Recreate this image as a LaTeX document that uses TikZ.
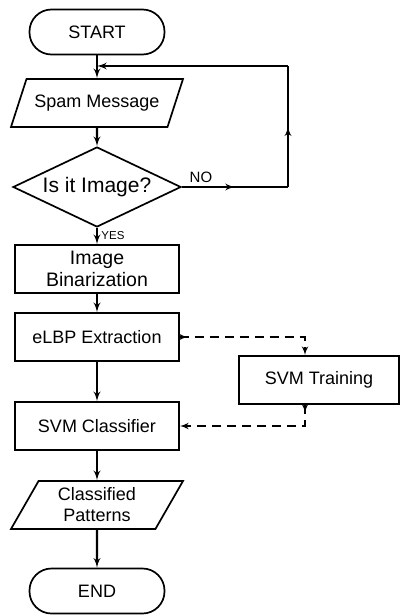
\documentclass[tikz,border=0pt]{standalone}
\usepackage{fontspec}
\setmainfont{Liberation Sans}
\usetikzlibrary{shapes,arrows,decorations.markings}

\begin{document}
\begin{tikzpicture}[x=1pt,y=1pt,auto,node distance=70pt,text centered,
	font=\fontsize{18}{21}\selectfont,
	term/.style={rectangle,rounded corners=22pt,draw=black,line width=1.7pt,minimum width=135pt,minimum height=45pt},
	block/.style={rectangle,draw=black,line width=1.7pt,minimum width=164pt,minimum height=48pt,align=center},
	io/.style={trapezium,trapezium left angle=56,trapezium right angle=124,trapezium stretches body,draw=black,line width=1.7pt,minimum width=172pt,minimum height=48pt,align=center},
	test/.style={diamond,draw=black,line width=1.7pt,aspect=2.1,inner sep=0pt,minimum width=168pt,minimum height=80pt},
	wire/.style={draw,line width=2.3pt},
	line/.style={draw,line width=2.3pt,-latex'},
	dline/.style={draw,line width=2pt,dash pattern=on 9pt off 6pt,-latex'},
	midarrow/.style={postaction={decorate},decoration={markings,mark=at position 0.5 with {\arrow{latex'}}}},
	startarrow/.style={postaction={decorate},decoration={markings,mark=at position 8pt with {\arrow{latex'}}}}]
\useasboundingbox (0,0) rectangle (401,-615);
\node[term] (start) at (97,-32) {START};
\node[io,below of=start,node distance=71pt] (msg) {Spam Message};
\node[test,below of=msg,node distance=84pt,font=\fontsize{21}{25}\selectfont] (test) {Is it Image?};
\node[block,below of=test,node distance=82pt,font=\fontsize{19.5}{22}\selectfont] (binar) {Image\\Binarization};
\node[block,below of=binar,node distance=68pt] (elbp) {eLBP Extraction};
\node[block,below of=elbp,node distance=89pt] (svmc) {SVM Classifier};
\node[block,minimum width=160pt] (svmt) at (319,-380) {SVM Training};
\node[io,below of=svmc,node distance=79pt] (pat) {Classified\\Patterns};
\node[term,below of=pat,node distance=86pt] (end) {END};
% loop back for non image messages
\coordinate (back) at (288,-66);
\coordinate (noend) at (back |- test);
\path[line] (start) -- (msg);
\path[line] (msg) -- (test);
\path[wire,midarrow] (test) --node[pos=0.18,font=\fontsize{15}{17}\selectfont] {NO} (noend);
\path[wire,midarrow] (noend) -- (back);
\path[line] (back) -- (back -| start);
\path[line] (test) --node[font=\fontsize{11.5}{13}\selectfont] {YES} (binar);
\path[line] (binar) -- (elbp);
\path[line] (elbp) -- (svmc);
\path[line] (svmc) -- (pat);
\path[line] (pat) -- (end);
% training branch
\path[dline,startarrow] (elbp.east) -| ([xshift=-14pt]svmt.north);
\path[dline,startarrow] ([xshift=-14pt]svmt.south) |- (svmc.east);
\end{tikzpicture}
\end{document}
